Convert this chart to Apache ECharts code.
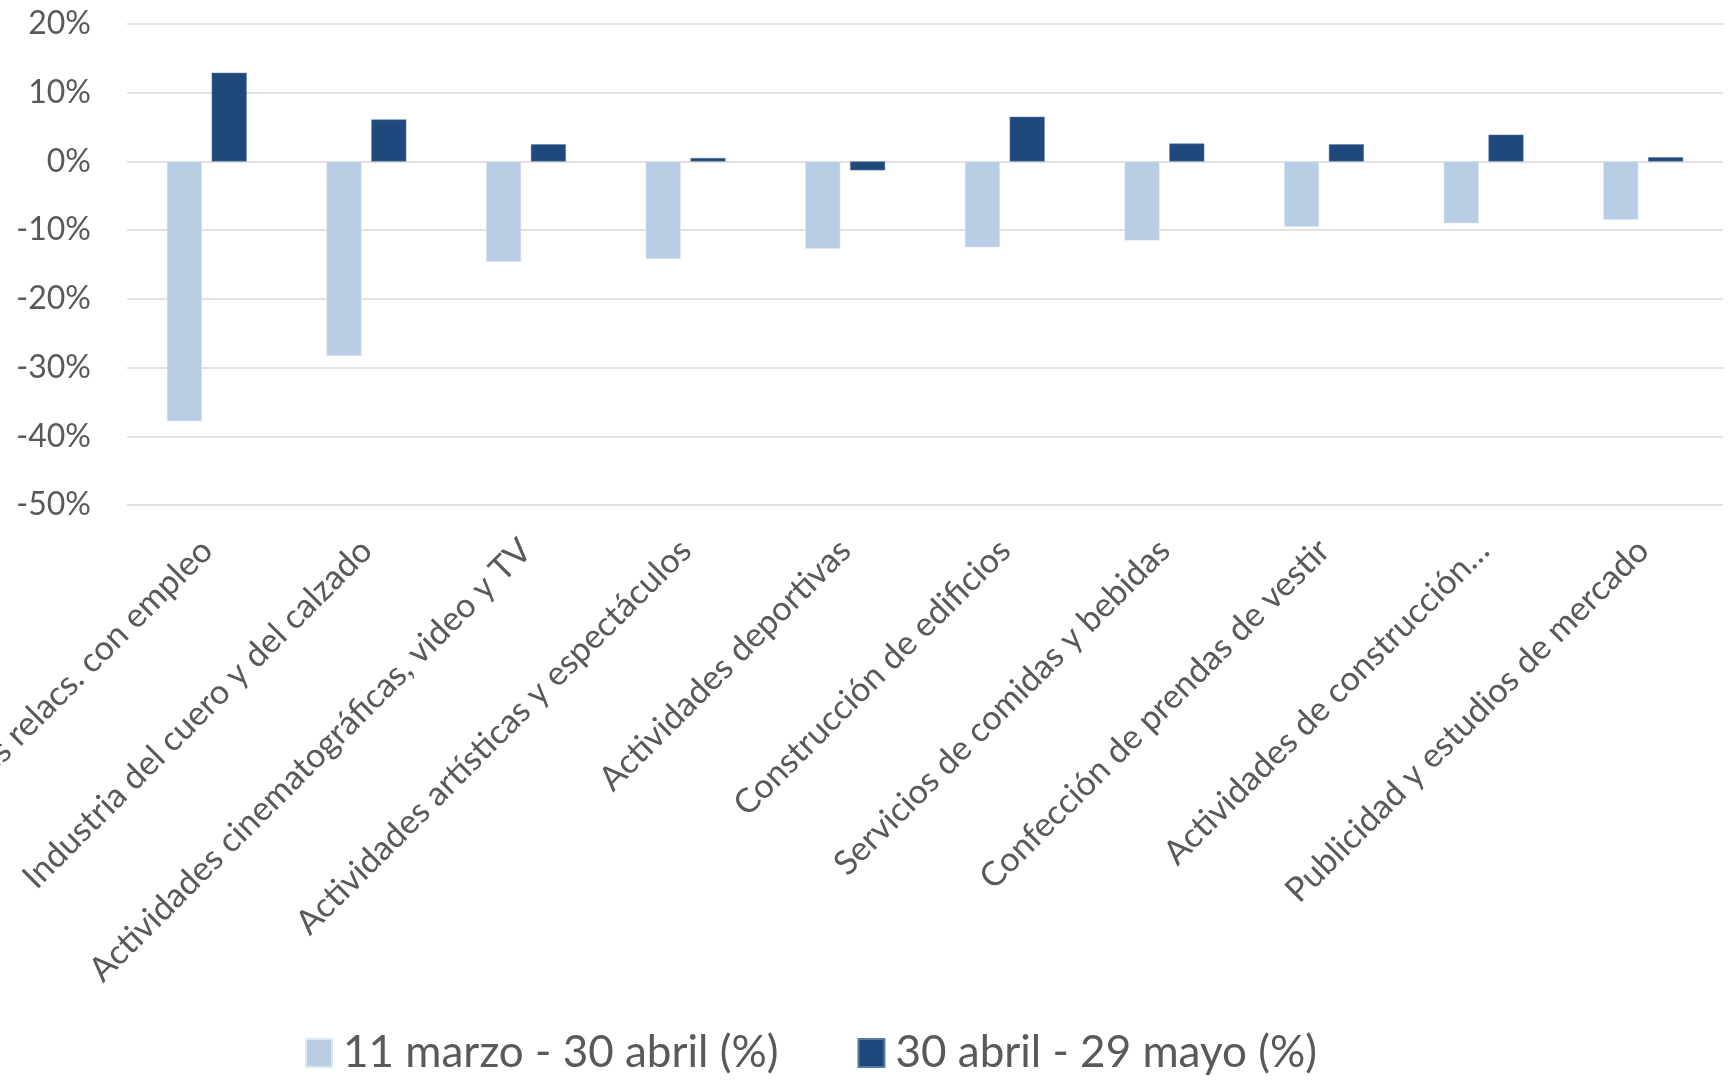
<!DOCTYPE html>
<html>
<head>
<meta charset="utf-8">
<script src="https://cdn.jsdelivr.net/npm/echarts@6/dist/echarts.min.js"></script>
<style>
  html, body { margin: 0; padding: 0; background: #fff; }
  #chart { width: 1729px; height: 1081px; }
</style>
</head>
<body>
<div id="chart"></div>
<script>
const categories = [
  "Actividades relacs. con empleo",
  "Industria del cuero y del calzado",
  "Actividades cinematográficas, video y TV",
  "Actividades artísticas y espectáculos",
  "Actividades deportivas",
  "Construcción de edificios",
  "Servicios de comidas y bebidas",
  "Confección de prendas de vestir",
  "Actividades de construcción…",
  "Publicidad y estudios de mercado"
];

const seriesNames = ["11 marzo - 30 abril (%)", "30 abril - 29 mayo (%)"];

// percent change per period
const marzoAbril = [-37.8, -28.3, -14.6, -14.2, -12.7, -12.5, -11.5, -9.5, -9.0, -8.5];
const abrilMayo = [12.9, 6.1, 2.5, 0.5, -1.3, 6.5, 2.6, 2.5, 3.9, 0.6];

const yMin = -50;
const yMax = 20;
const yStep = 10;

const TEXT = "#595959";
const FONT = "Lato";

const chart = echarts.init(document.getElementById("chart"), null, { renderer: "canvas" });

chart.setOption({
  animation: false,
  backgroundColor: "#ffffff",
  textStyle: { fontFamily: FONT, color: TEXT },
  grid: {
    left: 127, right: 6, top: 24, bottom: 576,
    containLabel: false,
    outerBoundsMode: "none"
  },
  legend: {
    left: 300,
    top: 1026,
    itemWidth: 26,
    itemHeight: 28,
    itemGap: 79,
    icon: "rect",
    textStyle: { fontFamily: FONT, fontSize: 44, color: TEXT, padding: [0, 0, 0, 6] },
    data: seriesNames
  },
  xAxis: {
    type: "category",
    data: categories,
    position: "bottom",
    axisLine: { show: false, onZero: false },
    axisTick: { show: false },
    axisLabel: {
      interval: 0,
      rotate: 45,
      margin: 40,
      fontFamily: FONT,
      fontSize: 34,
      color: TEXT
    }
  },
  yAxis: {
    type: "value",
    min: yMin,
    max: yMax,
    interval: yStep,
    axisLine: { show: false },
    axisTick: { show: false },
    splitLine: { lineStyle: { color: "#d9d9d9", width: 1.5 } },
    axisLabel: {
      formatter: "{value}%",
      margin: 36,
      fontFamily: FONT,
      fontSize: 32,
      color: TEXT
    }
  },
  series: [
    {
      name: seriesNames[0],
      type: "bar",
      data: marzoAbril,
      barWidth: 35,
      barGap: "28%",
      itemStyle: { color: "#b9cde5", borderColor: "#dde7f3", borderWidth: 0.5 }
    },
    {
      name: seriesNames[1],
      type: "bar",
      data: abrilMayo,
      barWidth: 35,
      itemStyle: { color: "#1f497d", borderColor: "#5a7aa3", borderWidth: 0.5 }
    }
  ]
});
</script>
</body>
</html>
